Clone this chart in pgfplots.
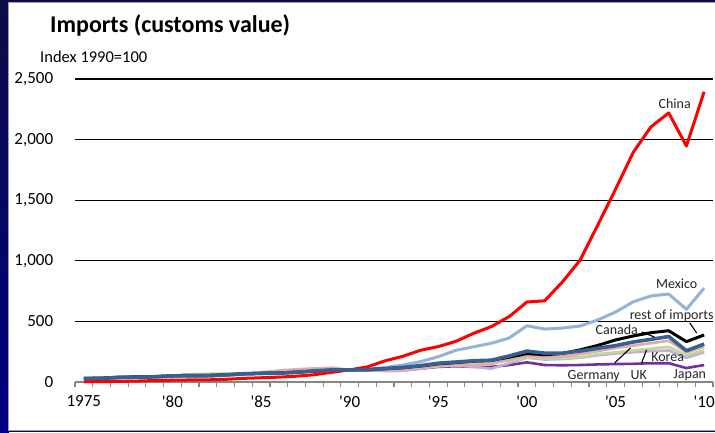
\documentclass[border=0pt]{standalone}
\usepackage{fontspec}
\setmainfont{Carlito}
\usepackage{pgfplots}
\pgfplotsset{compat=1.18}
\usepackage{pgfplotstable}

\definecolor{cnred}{RGB}{255,0,0}
\definecolor{mxblue}{RGB}{149,179,215}
\definecolor{cablue}{RGB}{55,96,146}
\definecolor{depink}{RGB}{226,170,168}
\definecolor{krlav}{RGB}{190,176,210}
\definecolor{ukgreen}{RGB}{195,214,155}
\definecolor{jppurple}{RGB}{112,48,160}
\definecolor{axgray}{RGB}{134,134,134}
\definecolor{slidenavy}{RGB}{12,12,70}

% index 1990=100
\pgfplotstableread{
year china mexico rest canada germany korea uk japan
1975 2    25  30  30  25  20  28  30
1976 3    28  32  30  28  25  30  32
1977 5    35  40  38  35  30  38  36
1978 8    38  42  40  40  40  42  40
1979 12   40  45  42  45  45  48  45
1980 15   45  52  50  48  45  55  50
1981 17   50  55  52  48  48  65  50
1982 18   48  55  52  50  50  68  50
1983 22   55  60  58  55  58  70  56
1984 30   65  68  68  65  65  72  64
1985 35   70  72  72  80  70  75  68
1986 40   72  75  72  95  80  78  72
1987 48   80  82  80  105 95  85  80
1988 60   90  90  92  112 110 95  88
1989 80   95  97  100 112 118 100 95
1990 100  100 100 100 100 100 100 100
1991 125  105 103 100 95  95  95  100
1992 175  120 110 110 95  90  100 98
1993 212  140 118 120 100 92  105 100
1994 262  168 132 135 115 110 115 110
1995 292  209 150 155 135 130 130 125
1996 336  262 160 165 135 135 140 130
1997 402  291 172 175 140 125 150 125
1998 458  320 178 180 150 110 160 125
1999 540  363 205 215 185 155 175 140
2000 660  464 235 255 215 200 200 162
2001 670  437 225 238 205 185 195 140
2002 825  445 235 238 210 190 195 138
2003 1005 462 265 255 230 200 205 140
2004 1295 512 302 278 255 220 230 145
2005 1590 577 347 300 280 235 245 148
2006 1895 662 380 330 300 245 260 150
2007 2105 710 407 352 320 255 275 155
2008 2220 726 423 375 340 260 290 155
2009 1947 600 333 258 245 200 220 115
2010 2395 775 388 313 290 245 262 140
}\imports

\begin{document}
\begin{tikzpicture}
\useasboundingbox (0,0) rectangle (715pt,432pt);
\fill[slidenavy] (0,0) rectangle (715pt,432pt);
\shade[top color=slidenavy, middle color=black, bottom color={rgb,255:red,0;green,0;blue,130}] (0,0) rectangle (9pt,432pt);
\filldraw[fill=white, draw=axgray!80, line width=1pt] (8.5pt,2pt) rectangle (717pt,429.5pt);

\node[anchor=base west, inner sep=0pt, font=\fontsize{24}{24}\selectfont\bfseries] at (50pt,399pt) {Imports (customs value)};
\node[anchor=base west, inner sep=0pt, font=\fontsize{16.5}{16.5}\selectfont] at (40pt,369.5pt) {Index 1990=100};

\begin{axis}[
  at={(75pt,50pt)}, anchor=south west,
  scale only axis, width=638pt, height=303pt,
  xmin=1974.5, xmax=2010.5, ymin=0, ymax=2500,
  clip=false,
  axis x line*=bottom, axis y line*=left,
  y axis line style={draw=none},
  x axis line style={draw=axgray, line width=1.6pt},
  xtick={1975,1980,...,2010},
  xticklabels={1975,\textquotesingle80,\textquotesingle85,\textquotesingle90,\textquotesingle95,\textquotesingle00,\textquotesingle05,\textquotesingle10},
  minor xtick={1974.5,1975.5,...,2010.5},
  tick align=outside,
  major x tick style={draw=none},
  minor x tick style={draw=axgray, line width=1.2pt},
  minor tick length=5pt,
  ytick={0,500,...,2500},
  ytick style={draw=none},
  ymajorgrids,
  major grid style={black, line width=1.3pt},
  /pgf/number format/.cd, assume math mode=true, 1000 sep={,},
  /pgfplots/.cd,
  tick label style={font=\fontsize{17}{17}\selectfont},
  xticklabel style={yshift=-6pt},
  yticklabel style={xshift=-14pt},
  every axis plot/.append style={line join=round, mark=none},
]
\addplot[jppurple, line width=2.6pt] table[x=year, y=japan] {\imports};
\addplot[krlav, line width=2.6pt] table[x=year, y=korea] {\imports};
\addplot[ukgreen, line width=2.6pt] table[x=year, y=uk] {\imports};
\addplot[depink, line width=2.6pt] table[x=year, y=germany] {\imports};
\addplot[mxblue, line width=3pt] table[x=year, y=mexico] {\imports};
\addplot[black, line width=3pt] table[x=year, y=rest] {\imports};
\addplot[cnred, line width=3pt] table[x=year, y=china] {\imports};
\addplot[cablue, line width=3.6pt] table[x=year, y=canada] {\imports};

\begin{scope}[every node/.style={font=\fontsize{14}{14}\selectfont, inner sep=0pt, text=black!85}]
\node at (axis cs:2008.34,2298) {China};
\node at (axis cs:2008.45,808) {Mexico};
\node at (axis cs:2008.17,549) {rest of imports};
\node at (axis cs:2005.07,433) {Canada};
\node at (axis cs:2007.94,202) {Korea};
\node at (axis cs:2003.77,48) {Germany};
\node at (axis cs:2006.31,58) {UK};
\node at (axis cs:2009.19,58) {Japan};
\end{scope}
\draw[black, line width=1.1pt] (axis cs:2009.19,487) -- (axis cs:2009.58,404);
\draw[black, line width=1.1pt] (axis cs:2006.47,413) -- (axis cs:2007.2,371);
\draw[black, line width=1.1pt] (axis cs:2004.95,157) -- (axis cs:2005.85,281);
\draw[black, line width=1.1pt] (axis cs:2006.47,157) -- (axis cs:2006.75,264);
\end{axis}
\end{tikzpicture}
\end{document}
